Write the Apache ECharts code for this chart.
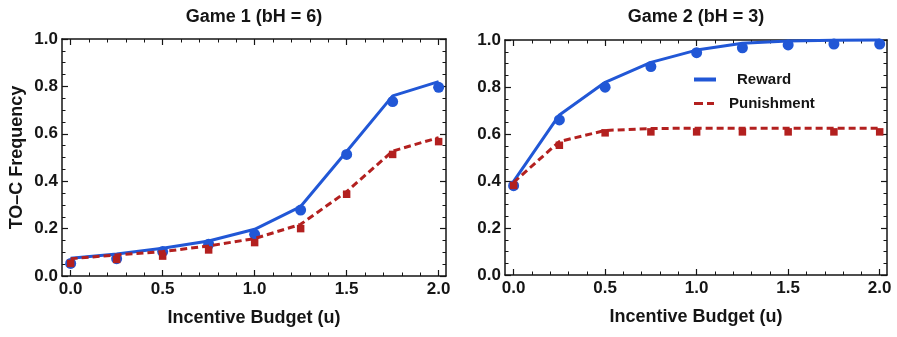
<!DOCTYPE html>
<html>
<head>
<meta charset="utf-8">
<script src="https://cdn.jsdelivr.net/npm/echarts@6/dist/echarts.min.js"></script>
<style>html,body{margin:0;padding:0;background:#fff;}#c{width:897px;height:337px;}</style>
</head>
<body>
<div id="c"></div>
<script>
// ---- data ----
const budget = [0, 0.25, 0.5, 0.75, 1.0, 1.25, 1.5, 1.75, 2.0];
const g1RewardModel = [0.075, 0.093, 0.117, 0.148, 0.197, 0.293, 0.525, 0.760, 0.820];
const g1RewardSim   = [0.053, 0.073, 0.103, 0.134, 0.176, 0.278, 0.513, 0.736, 0.796];
const g1PunishModel = [0.073, 0.089, 0.103, 0.127, 0.158, 0.218, 0.356, 0.527, 0.584];
const g1PunishSim   = [0.053, 0.070, 0.084, 0.110, 0.141, 0.200, 0.345, 0.513, 0.567];
const g2RewardModel = [0.398, 0.681, 0.820, 0.905, 0.957, 0.986, 0.996, 0.999, 1.000];
const g2RewardSim   = [0.380, 0.660, 0.799, 0.887, 0.946, 0.967, 0.979, 0.983, 0.983];
const g2PunishModel = [0.394, 0.568, 0.615, 0.623, 0.625, 0.625, 0.625, 0.625, 0.625];
const g2PunishSim   = [0.381, 0.552, 0.605, 0.609, 0.609, 0.609, 0.609, 0.609, 0.609];
const xTicks = [0, 0.5, 1.0, 1.5, 2.0];
const xMinorTicks = [0.1,0.2,0.3,0.4,0.6,0.7,0.8,0.9,1.1,1.2,1.3,1.4,1.6,1.7,1.8,1.9];
const yTicks = [0, 0.2, 0.4, 0.6, 0.8, 1.0];
const yMinorTicks = [0.05,0.1,0.15,0.25,0.3,0.35,0.45,0.5,0.55,0.65,0.7,0.75,0.85,0.9,0.95];
const titles = ['Game 1 (bH = 6)', 'Game 2 (bH = 3)'];
const xName = 'Incentive Budget (u)';
const yName = 'TO\u2013C Frequency';

// ---- styles ----
const FONT = 'Liberation Sans, Arial, sans-serif';
const BLUE = '#2157d6';
const RED = '#b3201f';
const INK = '#151515';
const XMIN = -0.047, XMAX = 2.04;

function pairs(ys) { return budget.map((x, i) => [x, ys[i]]); }

const xAxes = [], yAxes = [];
function addAxes(g, withYName) {
  const base = { gridIndex: g, type: 'value', splitLine: { show: false } };
  const line = { show: true, onZero: false, lineStyle: { color: INK, width: 1.5 } };
  const noLine = { show: false, onZero: false };
  const lbl = { fontSize: 17, fontWeight: 'bold', color: INK, fontFamily: FONT, formatter: v => v.toFixed(1) };
  xAxes.push(Object.assign({}, base, {
    position: 'bottom', min: XMIN, max: XMAX, axisLine: line,
    axisTick: { inside: true, length: 6, customValues: xTicks, lineStyle: { color: INK, width: 1.2 } },
    axisLabel: Object.assign({ customValues: xTicks, margin: 5 }, lbl),
    name: xName, nameLocation: 'middle', nameGap: 33,
    nameTextStyle: { fontSize: 18, fontWeight: 'bold', color: INK, fontFamily: FONT }
  }));
  const xMainIdx = xAxes.length - 1;
  xAxes.push(Object.assign({}, base, {
    position: 'bottom', min: XMIN, max: XMAX, axisLine: noLine,
    axisTick: { inside: true, length: 3.5, customValues: xMinorTicks, lineStyle: { color: INK, width: 1 } },
    axisLabel: { show: false }
  }));
  xAxes.push(Object.assign({}, base, {
    position: 'top', min: XMIN, max: XMAX, axisLine: line,
    axisTick: { inside: true, length: 6, customValues: xTicks, lineStyle: { color: INK, width: 1.2 } },
    axisLabel: { show: false }
  }));
  xAxes.push(Object.assign({}, base, {
    position: 'top', min: XMIN, max: XMAX, axisLine: noLine,
    axisTick: { inside: true, length: 3.5, customValues: xMinorTicks, lineStyle: { color: INK, width: 1 } },
    axisLabel: { show: false }
  }));
  const yMain = Object.assign({}, base, {
    position: 'left', min: 0, max: 1, axisLine: line,
    axisTick: { inside: true, length: 6, customValues: yTicks, lineStyle: { color: INK, width: 1.2 } },
    axisLabel: Object.assign({ customValues: yTicks, margin: 4 }, lbl)
  });
  if (withYName) {
    Object.assign(yMain, {
      name: yName, nameLocation: 'middle', nameGap: 36,
      nameTextStyle: { fontSize: 18, fontWeight: 'bold', color: INK, fontFamily: FONT }
    });
  }
  yAxes.push(yMain);
  const yMainIdx = yAxes.length - 1;
  yAxes.push(Object.assign({}, base, {
    position: 'left', min: 0, max: 1, axisLine: noLine,
    axisTick: { inside: true, length: 3.5, customValues: yMinorTicks, lineStyle: { color: INK, width: 1 } },
    axisLabel: { show: false }
  }));
  yAxes.push(Object.assign({}, base, {
    position: 'right', min: 0, max: 1, axisLine: line,
    axisTick: { inside: true, length: 6, customValues: yTicks, lineStyle: { color: INK, width: 1.2 } },
    axisLabel: { show: false }
  }));
  yAxes.push(Object.assign({}, base, {
    position: 'right', min: 0, max: 1, axisLine: noLine,
    axisTick: { inside: true, length: 3.5, customValues: yMinorTicks, lineStyle: { color: INK, width: 1 } },
    axisLabel: { show: false }
  }));
  return [xMainIdx, yMainIdx];
}
const [x0, y0] = addAxes(0, true);
const [x1, y1] = addAxes(1, false);

function panelSeries(xi, yi, rModel, rSim, pModel, pSim, suffix) {
  return [
    { name: 'Reward', type: 'line', xAxisIndex: xi, yAxisIndex: yi, data: pairs(rModel),
      symbol: 'none', clip: false, z: 2, lineStyle: { color: BLUE, width: 3 }, itemStyle: { color: BLUE } },
    { name: 'Reward sim' + suffix, type: 'scatter', xAxisIndex: xi, yAxisIndex: yi, data: pairs(rSim),
      symbol: 'circle', symbolSize: 11, z: 3, itemStyle: { color: BLUE, opacity: 1 } },
    { name: 'Punishment sim' + suffix, type: 'scatter', xAxisIndex: xi, yAxisIndex: yi, data: pairs(pSim),
      symbol: 'rect', symbolSize: 7.5, z: 4, itemStyle: { color: RED, opacity: 1 } },
    { name: 'Punishment', type: 'line', xAxisIndex: xi, yAxisIndex: yi, data: pairs(pModel),
      symbol: 'none', clip: false, z: 5, lineStyle: { color: RED, width: 3, type: [7, 4] }, itemStyle: { color: RED } }
  ];
}

const legendText = { fontSize: 15, fontWeight: 'bold', color: INK, fontFamily: FONT };
const option = {
  animation: false,
  backgroundColor: '#fff',
  title: [
    { text: titles[0], left: 254, top: 8, textAlign: 'center', padding: 0,
      textStyle: { fontSize: 18, fontWeight: 'bold', color: INK, fontFamily: FONT } },
    { text: titles[1], left: 696, top: 8, textAlign: 'center', padding: 0,
      textStyle: { fontSize: 18, fontWeight: 'bold', color: INK, fontFamily: FONT } }
  ],
  grid: [
    { left: 62, top: 39, width: 384, height: 237 },
    { left: 505, top: 40, width: 382, height: 235 }
  ],
  legend: [
    { data: [{ name: 'Reward', icon: 'path://M0,0H22V4H0Z' }], left: 694, top: 72, padding: 0,
      itemWidth: 22, itemHeight: 4, textStyle: Object.assign({ padding: [0, 0, 0, 16] }, legendText) },
    { data: [{ name: 'Punishment', icon: 'path://M0,0H9V3H0ZM13,0H20V3H13Z' }], left: 694, top: 96, padding: 0,
      itemWidth: 20, itemHeight: 3, textStyle: Object.assign({ padding: [0, 0, 0, 10] }, legendText) }
  ],
  xAxis: xAxes,
  yAxis: yAxes,
  series: [].concat(
    panelSeries(x0, y0, g1RewardModel, g1RewardSim, g1PunishModel, g1PunishSim, ' 1'),
    panelSeries(x1, y1, g2RewardModel, g2RewardSim, g2PunishModel, g2PunishSim, ' 2')
  )
};
const chart = echarts.init(document.getElementById('c'), null, { renderer: 'canvas' });
chart.setOption(option);
</script>
</body>
</html>
